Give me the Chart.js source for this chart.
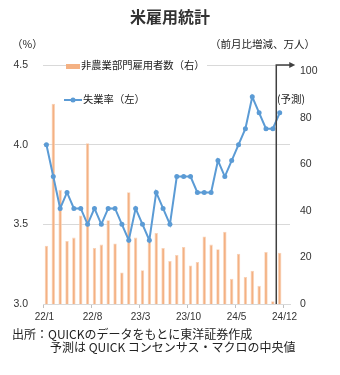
<!DOCTYPE html>
<html>
<head>
<meta charset="utf-8">
<script src="https://cdn.jsdelivr.net/npm/chart.js@4.4.1/dist/chart.umd.min.js"></script>
<style>
  html, body { margin: 0; padding: 0; background: #fff; }
  body { width: 340px; height: 375px; position: relative; overflow: hidden;
         font-family: "Noto Sans CJK JP", "Noto Sans", sans-serif; color: #222; }
  #wrap { position: absolute; left: 0; top: 0; width: 340px; height: 375px; }
  .txt { position: absolute; white-space: nowrap; line-height: 1; }
  #title { left: 0; width: 340px; top: 8px; text-align: center; font-size: 16px; font-weight: bold; color: #333; }
  #unitL { left: 12px; top: 39px; font-size: 10.5px; }
  #unitR { left: 210px; top: 39px; font-size: 10.5px; }
  .leg { font-size: 10.3px; background: #fff; padding: 2px 2px 2px 0; }
  .swatch { display: inline-block; vertical-align: middle; margin-right: 1px; }
  #legBar { left: 66px; top: 58px; }
  #legLine { left: 64px; top: 92px; background: transparent; }
  #fcst { left: 277px; top: 94px; font-size: 10.5px; }
  #note1 { left: 12px; top: 328px; font-size: 12px; }
  #note2 { left: 50px; top: 341px; font-size: 12px; }
</style>
</head>
<body>
<div id="wrap"><canvas id="usJobs"></canvas></div>
<div class="txt" id="title">米雇用統計</div>
<div class="txt" id="unitL">（%）</div>
<div class="txt" id="unitR">（前月比増減、万人）</div>
<div class="txt leg" id="legBar"><span class="swatch" style="width:14px;height:5px;background:#F4B183;"></span>非農業部門雇用者数（右）</div>
<div class="txt leg" id="legLine"><svg class="swatch" width="18" height="8"><line x1="0" y1="4" x2="18" y2="4" stroke="#5B9BD5" stroke-width="2"/><circle cx="9" cy="4" r="2.5" fill="#5B9BD5"/></svg>失業率（左）</div>
<div class="txt" id="fcst">(予測)</div>
<div class="txt" id="note1">出所：QUICKのデータをもとに東洋証券作成</div>
<div class="txt" id="note2">予測は QUICK コンセンサス・マクロの中央値</div>
<script>
// 月次：22/1〜24/12
const months = [
  '22/1', '22/2', '22/3', '22/4', '22/5', '22/6', '22/7', '22/8', '22/9', '22/10', '22/11', '22/12',
  '23/1', '23/2', '23/3', '23/4', '23/5', '23/6', '23/7', '23/8', '23/9', '23/10', '23/11', '23/12',
  '24/1', '24/2', '24/3', '24/4', '24/5', '24/6', '24/7', '24/8', '24/9', '24/10', '24/11', '24/12'
];

// 失業率（%、左軸）
const unemployment = [
  4.0, 3.8, 3.6, 3.7, 3.6, 3.6, 3.5, 3.6, 3.5, 3.6, 3.6, 3.5,
  3.4, 3.6, 3.5, 3.4, 3.7, 3.6, 3.5, 3.8, 3.8, 3.8, 3.7, 3.7,
  3.7, 3.9, 3.8, 3.9, 4.0, 4.1, 4.3, 4.2, 4.1, 4.1, 4.2, null
];

// 非農業部門雇用者数（前月比増減、万人、右軸）
const payrolls = [
  25, 86, 49, 27, 28.5, 38, 69, 24, 25.5, 36, 26, 13.5,
  48, 28.5, 14.5, 27.5, 30.5, 24, 18.5, 21, 24.5, 16.5, 18, 29,
  25.5, 23.5, 31, 10.8, 21.6, 11.6, 14.3, 7.8, 22.3, 1.2, 22, null
];

const leftTicks = [3.0, 3.5, 4.0, 4.5];
const rightTicks = [0, 20, 40, 60, 80, 100];
const forecastIndex = 34; // 予測値の位置

// 実績と予測の境目に縦線と矢印
const forecastLine = {
    id: 'forecastLine',
    afterDatasetsDraw(chart) {
        const { ctx, chartArea, scales: { x } } = chart;
        const px = (x.getPixelForValue(forecastIndex - 1) + x.getPixelForValue(forecastIndex)) / 2;
        const top = chartArea.top;
        ctx.save();
        ctx.strokeStyle = '#404040';
        ctx.fillStyle = '#404040';
        ctx.lineWidth = 1.5;
        ctx.beginPath();
        ctx.moveTo(px, chartArea.bottom);
        ctx.lineTo(px, top);
        ctx.lineTo(px + 14, top);
        ctx.stroke();
        ctx.beginPath();
        ctx.moveTo(px + 19, top);
        ctx.lineTo(px + 13, top - 3);
        ctx.lineTo(px + 13, top + 3);
        ctx.closePath();
        ctx.fill();
        ctx.restore();
    }
};

const tickFont = { family: '"Liberation Sans", Arial, sans-serif', size: 10.5 };

new Chart(document.getElementById('usJobs'), {
    plugins: [forecastLine],
    data: {
        labels: months,
        datasets: [
            {
                type: 'line',
                label: '失業率（左）',
                data: unemployment,
                yAxisID: 'y',
                borderColor: '#5B9BD5',
                backgroundColor: '#5B9BD5',
                borderWidth: 2,
                pointRadius: 2.5,
                pointBorderWidth: 0,
                tension: 0,
                order: 0,
            },
            {
                type: 'bar',
                label: '非農業部門雇用者数（右）',
                data: payrolls,
                yAxisID: 'y1',
                backgroundColor: '#F4B183',
                borderColor: '#F9D2B6',
                borderWidth: 0.8,
                categoryPercentage: 1,
                barPercentage: 0.5,
                order: 1,
            }
        ]
    },
    options: {
        responsive: true,
        maintainAspectRatio: false,
        animation: false,
        layout: { padding: { top: 65, left: 0, right: 0, bottom: 0 } },
        plugins: {
            legend: { display: false },
            tooltip: { enabled: false },
        },
        scales: {
            x: {
                afterFit: (s) => { s.height = 71; },
                grid: {
                    offset: true,
                    drawOnChartArea: false,
                    tickLength: 4,
                    color: (c) => (c.index % 7 === 0 ? '#BFBFBF' : 'transparent'),
                },
                border: { color: '#D9D9D9', width: 1 },
                ticks: {
                    autoSkip: false,
                    maxRotation: 0,
                    labelOffset: -2,
                    padding: 3,
                    color: '#333',
                    font: { family: tickFont.family, size: 10 },
                    callback: (v, i) => (i % 7 === 0 ? months[i] : ''),
                },
            },
            y: {
                position: 'left',
                min: 3.0,
                max: 4.5,
                afterFit: (s) => { s.width = 43; },
                afterBuildTicks: (s) => { s.ticks = leftTicks.map(v => ({ value: v })); },
                grid: {
                    drawTicks: false,
                    color: (c) => (c.tick && c.tick.value > 3.0 ? '#D9D9D9' : 'transparent'),
                },
                border: { display: false },
                ticks: {
                    padding: 15,
                    color: '#333',
                    font: tickFont,
                    callback: (v) => v.toFixed(1),
                },
            },
            y1: {
                position: 'right',
                min: 0,
                max: 102.6,
                afterFit: (s) => { s.width = 50; },
                afterBuildTicks: (s) => { s.ticks = rightTicks.map(v => ({ value: v })); },
                grid: { display: false, drawTicks: false },
                border: { display: false },
                ticks: {
                    padding: 10,
                    color: '#333',
                    font: tickFont,
                },
            },
        },
    },
});
</script>
</body>
</html>
